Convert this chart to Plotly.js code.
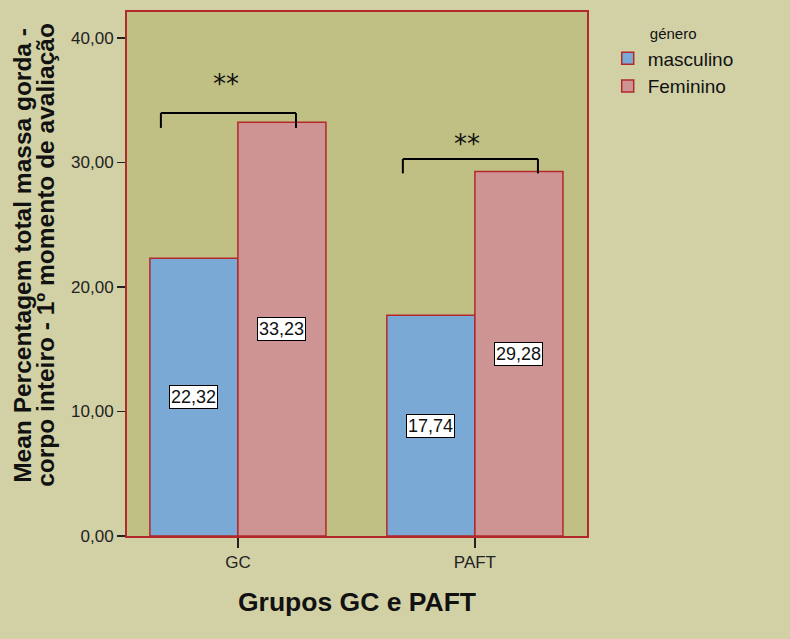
<!DOCTYPE html>
<html>
<head>
<meta charset="utf-8">
<script src="https://cdn.plot.ly/plotly-3.0.1.min.js"></script>
<style>
  html, body { margin: 0; padding: 0; background: #d2d1a6; }
  #chart { width: 790px; height: 639px; }
</style>
</head>
<body>
<div id="chart"></div>
<script>
// Mean % total fat mass, whole body, 1st assessment, by group and gender
const groups = ['GC', 'PAFT'];
const maleValues = [22.32, 17.74];
const femaleValues = [33.23, 29.28];
const seriesNames = ['masculino', 'Feminino'];
const significance = ['**', '**'];

const FONT = 'Liberation Sans, Arial, sans-serif';
const fmt = v => v.toFixed(2).replace('.', ',');

const barLine = { color: '#b3282a', width: 1.5 };

const traces = [
  {
    type: 'bar', name: seriesNames[0], x: groups, y: maleValues,
    marker: { color: '#7ba9d6', line: barLine },
    hoverinfo: 'skip'
  },
  {
    type: 'bar', name: seriesNames[1], x: groups, y: femaleValues,
    marker: { color: '#ce9494', line: barLine },
    hoverinfo: 'skip'
  }
];

// value labels in the middle of each bar
const barOffset = 0.186;   // distance of a bar centre from its group centre, in category units
const annotations = [];
groups.forEach((g, i) => {
  [[maleValues, -1], [femaleValues, 1]].forEach(([vals, side]) => {
    annotations.push({
      x: i + side * barOffset, xref: 'x', y: vals[i] / 2, yref: 'y',
      text: fmt(vals[i]), showarrow: false,
      bgcolor: '#ffffff', bordercolor: '#000000', borderwidth: 1, borderpad: 1,
      font: { family: FONT, size: 18, color: '#111' }
    });
  });
});

// significance brackets above each group
const bracketStyle = [
  { x0: -0.325, x1: 0.245, rise: 0.75, drop: 0.45, starX: -0.05, starY: 36.3 },
  { x0: -0.304, x1: 0.266, rise: 1.0, drop: 0.15, starX: -0.034, starY: 31.5 }
];
const shapes = [];
groups.forEach((g, i) => {
  const b = bracketStyle[i];
  const top = femaleValues[i] + b.rise;
  const leg = femaleValues[i] - b.drop;
  const x0 = i + b.x0, x1 = i + b.x1;
  const ln = { color: '#000000', width: 2 };
  shapes.push({ type: 'line', xref: 'x', yref: 'y', x0: x0, x1: x1, y0: top, y1: top, line: ln });
  shapes.push({ type: 'line', xref: 'x', yref: 'y', x0: x0, x1: x0, y0: top, y1: leg, line: ln });
  shapes.push({ type: 'line', xref: 'x', yref: 'y', x0: x1, x1: x1, y0: top, y1: leg, line: ln });
  annotations.push({
    x: i + b.starX, xref: 'x', y: b.starY, yref: 'y', yanchor: 'middle',
    text: significance[i], showarrow: false,
    font: { family: 'DejaVu Sans, sans-serif', size: 26, color: '#111' }
  });
});

// axis titles
annotations.push({
  xref: 'paper', yref: 'paper', x: -0.229, y: 0.536, xanchor: 'center', yanchor: 'middle',
  textangle: -90, showarrow: false,
  text: '<b>Mean Percentagem total massa gorda -</b>',
  font: { family: FONT, size: 24.5, color: '#111' }
});
annotations.push({
  xref: 'paper', yref: 'paper', x: -0.179, y: 0.536, xanchor: 'center', yanchor: 'middle',
  textangle: -90, showarrow: false,
  text: '<b>corpo inteiro - 1º momento de avaliação</b>',
  font: { family: FONT, size: 24.5, color: '#111' }
});
annotations.push({
  xref: 'paper', yref: 'paper', x: 0.5, y: -0.126, xanchor: 'center', yanchor: 'middle',
  showarrow: false,
  text: '<b>Grupos GC e PAFT</b>',
  font: { family: FONT, size: 26.5, color: '#111' }
});

const layout = {
  width: 790, height: 639,
  paper_bgcolor: '#d2d1a6',
  plot_bgcolor: '#c0c085',
  margin: { l: 127, r: 203, t: 12, b: 103 },
  separators: ',.',
  barmode: 'group',
  bargap: 0.257,
  bargroupgap: 0,
  font: { family: FONT, color: '#222' },
  xaxis: {
    type: 'category',
    range: [-0.468, 1.473],
    showline: true, mirror: true, linecolor: '#b3282a', linewidth: 2,
    ticks: 'outside', ticklen: 10, tickwidth: 1.5, tickcolor: '#222',
    tickfont: { size: 17, color: '#222' },
    showgrid: false, zeroline: false
  },
  yaxis: {
    range: [0, 42.09],
    tickvals: [0, 10, 20, 30, 40],
    tickformat: '.2f',
    showline: true, mirror: true, linecolor: '#b3282a', linewidth: 2,
    ticks: 'outside', ticklen: 8, tickwidth: 1.5, tickcolor: '#222',
    tickfont: { size: 17, color: '#222' },
    showgrid: false, zeroline: false
  },
  legend: {
    x: 1.045, xanchor: 'left', y: 0.985, yanchor: 'top',
    bgcolor: 'rgba(0,0,0,0)',
    font: { family: FONT, size: 19, color: '#111' },
    title: { text: 'género', side: 'top center', font: { family: FONT, size: 15, color: '#111' } },
    tracegroupgap: 0, itemwidth: 30
  },
  showlegend: true,
  annotations: annotations,
  shapes: shapes
};

Plotly.newPlot('chart', traces, layout, { displayModeBar: false, staticPlot: true });
</script>
</body>
</html>
